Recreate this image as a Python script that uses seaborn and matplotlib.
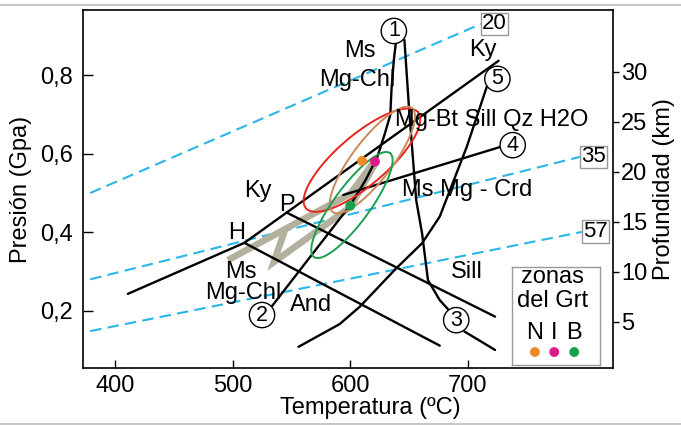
import numpy as np
import matplotlib.pyplot as plt
from matplotlib.lines import Line2D
import seaborn as sns

sns.set_theme(style="ticks")
plt.rcParams["font.family"] = ["Liberation Sans", "DejaVu Sans"]
plt.rcParams["text.color"] = "black"
plt.rcParams["axes.labelcolor"] = "black"
plt.rcParams["xtick.color"] = "black"
plt.rcParams["ytick.color"] = "black"

# ---- data (T in ºC, P in GPa) ----
# dashed geotherms with their boxed labels
geo_labels = ["20", "35", "57"]
geo_T = [[379, 711], [379, 795], [379, 797]]
geo_P = [[0.500, 0.931], [0.280, 0.592], [0.148, 0.401]]

# aluminosilicate lines (H = Holdaway, P = Pattison triple points)
ky_and_T = [411, 510]
ky_and_P = [0.243, 0.373]
ky_sill_T = [510, 726]
ky_sill_P = [0.373, 0.837]
and_sill_h_T = [510, 676]
and_sill_h_P = [0.373, 0.111]
and_sill_p_T = [546, 723]
and_sill_p_P = [0.450, 0.185]

# reaction curves
r21_T = [533, 600, 613, 623, 629, 634, 635, 637, 639]
r21_P = [0.210, 0.469, 0.533, 0.592, 0.648, 0.699, 0.763, 0.839, 0.890]
r13_T = [646, 650, 656, 661, 666, 676, 683]
r13_P = [0.890, 0.712, 0.482, 0.397, 0.278, 0.227, 0.204]
r3_T = [697, 723]
r3_P = [0.147, 0.100]
r5_T = [556, 591, 608, 639, 661, 676, 699, 716]
r5_P = [0.108, 0.166, 0.210, 0.308, 0.372, 0.440, 0.618, 0.771]
r4_T = [594, 727]
r4_P = [0.495, 0.617]

circ_labels = ["1", "2", "3", "4", "5"]
circ_T = [637, 525, 690, 738, 725]
circ_P = [0.913, 0.189, 0.176, 0.622, 0.791]

# P-T path (grey)
path_a_T = [496, 600, 620]
path_a_P = [0.329, 0.498, 0.579]
path_b_T = [544.5, 535, 600, 622]
path_b_P = [0.406, 0.324, 0.464, 0.579]

# garnet zones
zone_names = ["N", "I", "B"]
zone_T = [610, 621, 600]
zone_P = [0.582, 0.580, 0.468]
zone_colors = ["#f08a24", "#e0188c", "#17a050"]

# uncertainty ellipses: centre, major semi-axis vector, minor semi-axis vector
ell_colors = ["#e8241c", "#c98a5a", "#1aa050"]
ell_center = [(609.9, 0.5837), (618.8, 0.5841), (601.4, 0.4694)]
ell_major = [(47.6, 0.1224), (33.6, 0.1325), (32.3, 0.1325)]
ell_minor = [(13.85, -0.0484), (13.5, -0.0308), (12.3, -0.027)]

# field labels
lab_text = ["Ms", "Mg-Chl", "Ky", "Mg-Bt Sill Qz H2O", "Ms Mg - Crd",
            "Ky", "P", "H", "Ms", "Mg-Chl", "And", "Sill"]
lab_T = [608, 605.5, 712.5, 720, 699, 521.5, 546, 503, 507, 509, 567, 699]
lab_P = [0.862, 0.788, 0.865, 0.686, 0.508, 0.505, 0.469, 0.398, 0.299,
         0.245, 0.2145, 0.299]

# ---- figure ----
fig = plt.figure(figsize=(6.81, 4.25), dpi=100)
ax = fig.add_axes([0.1214, 0.1341, 0.7787, 0.8424])

blue = "#29b6e8"
for t, p in zip(geo_T, geo_P):
    ax.plot(t, p, color=blue, lw=1.5, dashes=(5.5, 3), zorder=1)
for lab, t, p in zip(geo_labels, geo_T, geo_P):
    ax.text(t[1] + 1, p[1], lab, ha="left", va="center", fontsize=16, zorder=7,
            bbox=dict(boxstyle="square,pad=0.04", fc="white", ec="#999999", lw=1))

gray = "#b3b19d"
for t, p in [(path_a_T, path_a_P), (path_b_T, path_b_P)]:
    sns.lineplot(x=t, y=p, sort=False, estimator=None, color=gray, lw=4.8,
                 solid_capstyle="butt", solid_joinstyle="miter", ax=ax, zorder=2)

black_lines = [(ky_and_T, ky_and_P), (ky_sill_T, ky_sill_P),
               (and_sill_h_T, and_sill_h_P), (and_sill_p_T, and_sill_p_P),
               (r21_T, r21_P), (r13_T, r13_P), (r3_T, r3_P),
               (r5_T, r5_P), (r4_T, r4_P)]
for t, p in black_lines:
    sns.lineplot(x=t, y=p, sort=False, estimator=None, color="black", lw=1.7,
                 ax=ax, zorder=3)

th = np.linspace(0, 2 * np.pi, 200)
for c, m, n, col in zip(ell_center, ell_major, ell_minor, ell_colors):
    et = c[0] + m[0] * np.cos(th) + n[0] * np.sin(th)
    ep = c[1] + m[1] * np.cos(th) + n[1] * np.sin(th)
    ax.plot(et, ep, color=col, lw=1.4, zorder=4)

sns.scatterplot(x=zone_T, y=zone_P, hue=zone_names, palette=zone_colors,
                s=50, linewidth=0, legend=False, ax=ax, zorder=5)

for s, t, p in zip(lab_text, lab_T, lab_P):
    ax.text(t, p, s, ha="center", va="center", fontsize=17, zorder=6)

for s, t, p in zip(circ_labels, circ_T, circ_P):
    ax.text(t, p, s, ha="center", va="center", fontsize=15.5, zorder=7,
            bbox=dict(boxstyle="circle,pad=0.1", fc="white", ec="black", lw=1))

ax.set_xlim(372.6, 823.2)
ax.set_ylim(0.054, 0.9665)
ax.set_xticks([400, 500, 600, 700])
ax.set_yticks([0.2, 0.4, 0.6, 0.8])
ax.set_yticklabels(["0,2", "0,4", "0,6", "0,8"])
ax.tick_params(axis="x", direction="in", length=6, width=1, labelsize=17, pad=5)
ax.tick_params(axis="y", direction="in", length=7.5, width=1, labelsize=17, pad=7)
for sp in ax.spines.values():
    sp.set_color("black")
    sp.set_linewidth(1.2)

ax.set_xlabel("Temperatura (ºC)", fontsize=17)
ax.xaxis.set_label_coords(0.542, -0.08)
ax.set_ylabel("Presión (Gpa)", fontsize=17)
ax.yaxis.set_label_coords(-0.095, 0.5)

ax2 = ax.twinx()
ax2.set_ylim(0.37, 36.17)
ax2.set_yticks([5, 10, 15, 20, 25, 30])
ax2.tick_params(axis="y", direction="out", length=4, width=1, labelsize=17, pad=2)
ax2.set_ylabel("Profundidad (km)", fontsize=17)
ax2.yaxis.set_label_coords(1.075, 0.5)
for sp in ax2.spines.values():
    sp.set_visible(False)

# legend box for garnet zones
lg = ax.inset_axes([0.810, 0.0084, 0.1654, 0.2746])
lg.set_xlim(0, 1)
lg.set_ylim(0, 1)
lg.set_xticks([])
lg.set_yticks([])
for sp in lg.spines.values():
    sp.set_color("#999999")
    sp.set_linewidth(1)
lg.text(0.464, 0.90, "zonas", ha="center", va="center", fontsize=17)
lg.text(0.464, 0.65, "del Grt", ha="center", va="center", fontsize=17)
leg_x = [0.259, 0.479, 0.707]
for x, s in zip(leg_x, zone_names):
    lg.text(x, 0.33, s, ha="center", va="center", fontsize=17)
sns.scatterplot(x=leg_x, y=[0.132] * 3, hue=zone_names, palette=zone_colors,
                s=50, linewidth=0, legend=False, ax=lg)
lg.set_xlabel("")
lg.set_ylabel("")

fig.add_artist(Line2D([0, 1], [0.988, 0.988], transform=fig.transFigure,
                      color="#c8c8c8", lw=1.5))
fig.add_artist(Line2D([0, 1], [0.003, 0.003], transform=fig.transFigure,
                      color="#c8c8c8", lw=1.5))

fig.savefig("out.png", dpi=100)
